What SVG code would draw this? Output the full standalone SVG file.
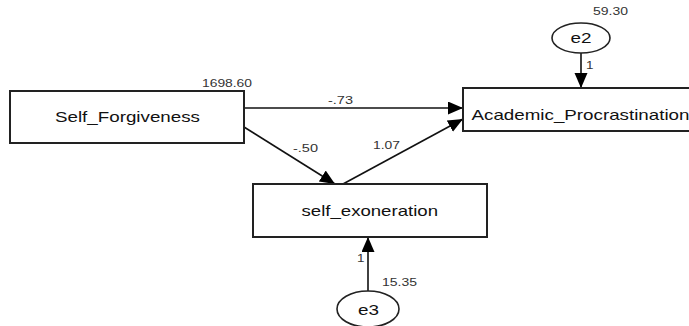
<svg xmlns="http://www.w3.org/2000/svg" width="689" height="326" viewBox="0 0 689 326">
<style>
.box{fill:#fff;stroke:#222;stroke-width:2}
.lat{fill:#fff;stroke:#222;stroke-width:1.6}
.lbl{font-family:"Liberation Sans",Arial,sans-serif;font-size:15px;fill:#111}
.num{font-family:"Liberation Sans",Arial,sans-serif;font-size:11px;fill:#333}
.con{stroke:#111;stroke-width:1.6;fill:none;marker-end:url(#ah)}
</style>
<defs>
<marker id="ah" markerUnits="userSpaceOnUse" markerWidth="16" markerHeight="14" refX="15" refY="6.5" orient="auto">
<path d="M0,0 L15,6.5 L0,13 Z" fill="#000"/>
</marker>
</defs>
<rect width="689" height="326" fill="#fff"/>
<g id="connectors">
<line class="con" x1="244" y1="108" x2="463" y2="108"/>
<line class="con" x1="244" y1="127" x2="335" y2="184"/>
<line class="con" x1="343" y1="184" x2="463" y2="119"/>
<line class="con" x1="581" y1="53" x2="581" y2="88"/>
<line class="con" x1="368" y1="291" x2="368" y2="237"/>
<text class="num" x="328" y="104" textLength="25" lengthAdjust="spacingAndGlyphs">-.73</text>
<text class="num" x="293" y="152" textLength="25" lengthAdjust="spacingAndGlyphs">-.50</text>
<text class="num" x="373" y="149" textLength="27" lengthAdjust="spacingAndGlyphs">1.07</text>
<text class="num" x="586" y="69" textLength="7.5" lengthAdjust="spacingAndGlyphs">1</text>
<text class="num" x="357" y="262" textLength="7.5" lengthAdjust="spacingAndGlyphs">1</text>
</g>
<g id="Self_Forgiveness">
<rect class="box" x="10" y="91" width="234" height="52"/>
<text class="lbl" x="55" y="122" textLength="145" lengthAdjust="spacingAndGlyphs">Self_Forgiveness</text>
<text class="num" x="202" y="86.5" textLength="50" lengthAdjust="spacingAndGlyphs">1698.60</text>
</g>
<g id="Academic_Procrastination">
<rect class="box" x="463" y="88" width="240" height="43"/>
<text class="lbl" x="471.5" y="120" textLength="218" lengthAdjust="spacingAndGlyphs">Academic_Procrastination</text>
</g>
<g id="self_exoneration">
<rect class="box" x="253" y="184" width="234" height="53"/>
<text class="lbl" x="301.5" y="215.5" textLength="136.5" lengthAdjust="spacingAndGlyphs">self_exoneration</text>
</g>
<g id="e2">
<ellipse class="lat" cx="581" cy="38" rx="29" ry="15"/>
<text class="lbl" x="570.5" y="42.5" textLength="21" lengthAdjust="spacingAndGlyphs">e2</text>
<text class="num" x="593" y="15" textLength="35" lengthAdjust="spacingAndGlyphs">59.30</text>
</g>
<g id="e3">
<ellipse class="lat" cx="368" cy="309" rx="31" ry="18"/>
<text class="lbl" x="358" y="315" textLength="21" lengthAdjust="spacingAndGlyphs">e3</text>
<text class="num" x="382" y="286" textLength="35" lengthAdjust="spacingAndGlyphs">15.35</text>
</g>
</svg>
